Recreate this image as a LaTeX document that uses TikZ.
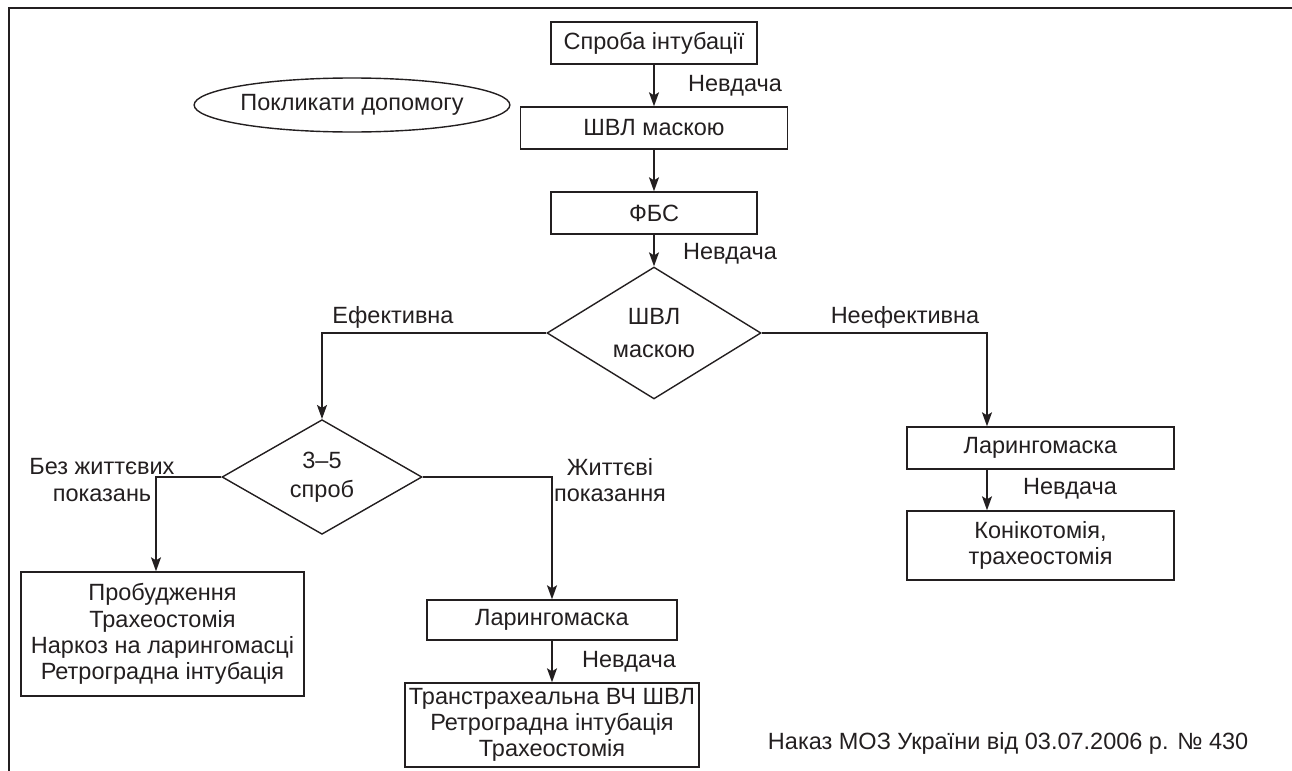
\documentclass[tikz,border=0pt]{standalone}
\usepackage{fontspec}
\setmainfont{Liberation Sans}
\usetikzlibrary{shapes.geometric,arrows.meta}
\definecolor{ink}{HTML}{231F20}

\begin{document}
\begin{tikzpicture}[x=0.5pt, y=-0.5pt, line width=0.7pt, color=ink,
  font=\fontsize{11.75}{13.15}\selectfont,
  boxsize/.style 2 args={minimum width=#1*0.5pt, minimum height=#2*0.5pt},
  block/.style={draw, rectangle, inner sep=0pt, align=center},
  choice/.style={draw, diamond, inner sep=0pt, align=center},
  oval/.style={draw, ellipse, inner sep=0pt},
  flow/.style={-{Stealth[length=7pt, width=5pt, inset=1.5pt]}},
  note/.style={inner sep=0pt, align=center}]
\useasboundingbox (0,0) rectangle (1292,771);
%frame
\draw[line width=1pt] (9,771) -- (9,8) -- (1292,8);

%main column
\node[block, boxsize={206}{42}] (try) at (654,43) {Спроба інтубації};
\node[block, boxsize={267}{42}] (mask) at (654,128) {ШВЛ маскою};
\node[block, boxsize={206}{42}] (fbs) at (654,213) {ФБС};
\node[choice, boxsize={214}{108}] (vent) at (654,333) {ШВЛ\\[3.5pt]маскою};
\node[oval, boxsize={270}{54}] (help) at (352,105) {Покликати допомогу};

\draw[flow] (try) -- (mask);
\draw[flow] (mask) -- (fbs);
\draw[flow] (fbs) -- (vent);
\node[note] (fail1) at (735,86) {Невдача};
\node[note] (fail2) at (730,254) {Невдача};

%right branch
\node[block, boxsize={267}{42}] (larR) at (1040.5,448) {Ларингомаска};
\node[block, boxsize={267}{69}] (conic) at (1040.5,545.5) {Конікотомія,\\трахеостомія};
\coordinate (rjoin) at (987,333);
\draw[flow] (vent.east) -- (rjoin) -- (rjoin |- larR.north);
\draw[flow] (rjoin |- larR.south) -- (rjoin |- conic.north);
\node[note] (noeff) at (905,317) {Неефективна};
\node[note] (fail3) at (1070,489) {Невдача};

%left branch
\node[choice, boxsize={200}{100}] (tries) at (322,477) {3–5\\[1.5pt]спроб};
\draw[flow] (vent.west) -| (tries.north);
\node[note] (eff) at (393,317) {Ефективна};

\node[block, boxsize={283}{124}] (wake) at (162.5,634)
  {Пробудження\\Трахеостомія\\Наркоз на ларингомасці\\Ретроградна інтубація};
\node[block, boxsize={250}{40}] (larM) at (552,620) {Ларингомаска};
\node[block, boxsize={294}{84}] (trans) at (552,725)
  {Транстрахеальна ВЧ ШВЛ\\Ретроградна інтубація\\Трахеостомія};
\coordinate (ljoin) at (156,477);
\draw[flow] (tries.west) -- (ljoin) -- (ljoin |- wake.north);
\draw[flow] (tries.east) -| (larM.north);
\draw[flow] (larM) -- (trans);
\node[note] (novital) at (102,480) {Без життєвих\\показань};
\node[note] (vital) at (610,480) {Життєві\\показання};
\node[note] (fail4) at (629,662) {Невдача};

\node[note, anchor=east] (order) at (1249,743) {Наказ МОЗ України від 03.07.2006 р. № 430};
\end{tikzpicture}
\end{document}
